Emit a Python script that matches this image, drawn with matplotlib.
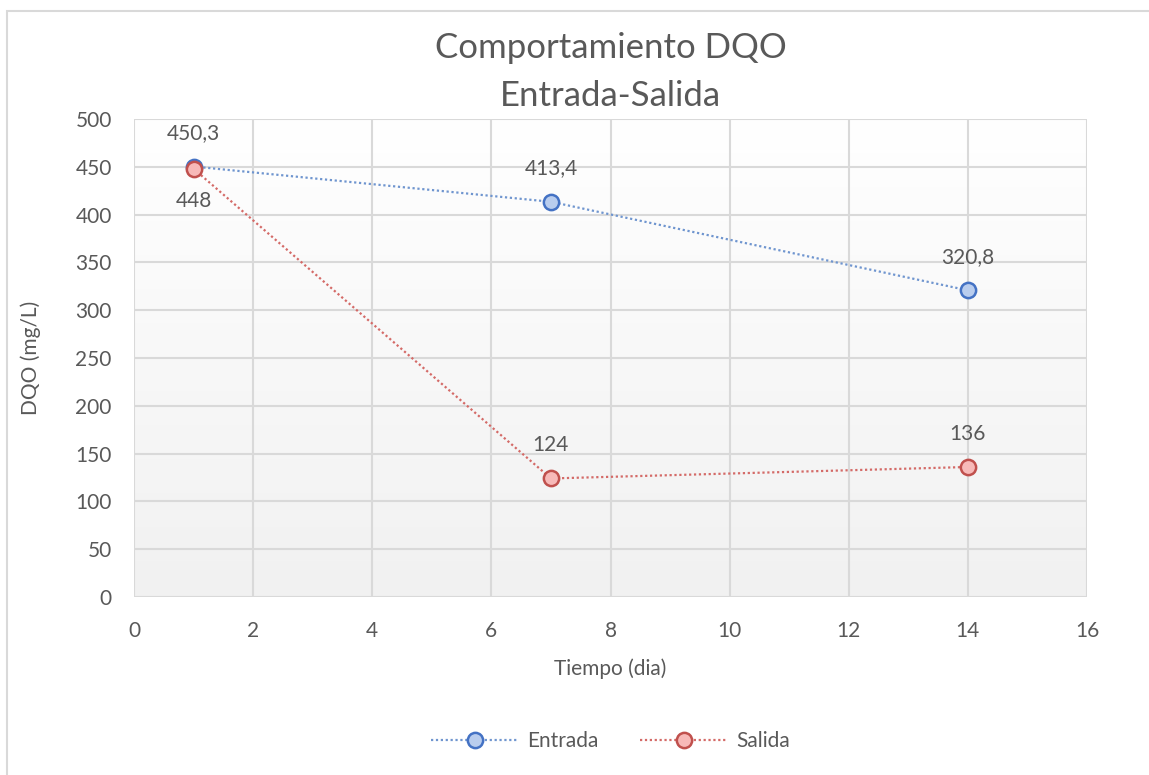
import numpy as np
import matplotlib.pyplot as plt
from matplotlib.patches import Rectangle
from matplotlib.lines import Line2D

# Data
dias = [1, 7, 14]
entrada = [450.3, 413.4, 320.8]
salida = [448, 124, 136]
etiquetas_entrada = ["450,3", "413,4", "320,8"]
etiquetas_salida = ["448", "124", "136"]
xticks = [0, 2, 4, 6, 8, 10, 12, 14, 16]
yticks = [0, 50, 100, 150, 200, 250, 300, 350, 400, 450, 500]

plt.rcParams['font.family'] = ['Lato', 'DejaVu Sans']
txt = '#595959'
grid_c = '#d9d9d9'
fs = 15

W, H = 1149, 775
fig = plt.figure(figsize=(W / 100, H / 100), dpi=100)

# Outer chart border (open on right/bottom edges)
fig.patches.append(Rectangle((7 / W, 0 - 0.01), 1.02, 1 - 11 / H + 0.01,
                             transform=fig.transFigure, fill=False,
                             edgecolor='#d9d9d9', linewidth=1.5))

ax = fig.add_axes([134 / W, 1 - 597 / H, (1087 - 134) / W, (597 - 119) / H])
ax.set_xlim(0, 16)
ax.set_ylim(0, 500)

# Vertical gradient background of the plot area
grad = np.linspace(0, 1, 256).reshape(-1, 1)
top = np.array([1.0, 1.0, 1.0])
bot = np.array([0.945, 0.945, 0.945])
img = top + (bot - top) * grad
img = np.repeat(img[:, None, :], 2, axis=1)
ax.imshow(img, extent=[0, 16, 0, 500], origin='upper', aspect='auto', zorder=0)

ax.set_xticks(xticks)
ax.set_yticks(yticks)
ax.grid(True, color=grid_c, linewidth=1.5, zorder=1)
for s in ax.spines.values():
    s.set_visible(False)
ax.tick_params(axis='y', length=0, labelsize=fs, colors=txt, pad=16)
ax.tick_params(axis='x', length=0, labelsize=fs, colors=txt, pad=17)

col_e_line, col_e_edge, col_e_face = '#6f95cf', '#4472c4', '#b9cdee'
col_s_line, col_s_edge, col_s_face = '#d46a67', '#c0504d', '#f7b9b8'
ms = 11

ax.plot(dias, entrada, linestyle=(0, (1, 1.2)), color=col_e_line, linewidth=1.6,
        marker='o', markersize=ms, markerfacecolor=col_e_face,
        markeredgecolor=col_e_edge, markeredgewidth=1.8, zorder=3)
ax.plot(dias, salida, linestyle=(0, (1, 1.2)), color=col_s_line, linewidth=1.6,
        marker='o', markersize=ms, markerfacecolor=col_s_face,
        markeredgecolor=col_s_edge, markeredgewidth=1.8, zorder=4)

for x, y, t in zip(dias, entrada, etiquetas_entrada):
    ax.annotate(t, (x, y), xytext=(0, 24), textcoords='offset points',
                ha='center', va='center', fontsize=fs, color=txt, zorder=5)
for i, (x, y, t) in enumerate(zip(dias, salida, etiquetas_salida)):
    dy = -23.5 if i == 0 else 24
    ax.annotate(t, (x, y), xytext=(0, dy), textcoords='offset points',
                ha='center', va='center', fontsize=fs, color=txt, zorder=5)

ax.set_xlabel('Tiempo (dia)', fontsize=fs, color=txt, labelpad=13)
ax.set_ylabel('DQO (mg/L)', fontsize=fs, color=txt, labelpad=25)

fig.text((134 + 1087) / 2 / W, 1 - 72 / H, 'Comportamiento DQO\nEntrada-Salida',
         ha='center', va='center', fontsize=25, color=txt, linespacing=1.62)

handles = [
    Line2D([], [], linestyle=(0, (1, 1.2)), color=col_e_line, linewidth=1.6,
           marker='o', markersize=ms, markerfacecolor=col_e_face,
           markeredgecolor=col_e_edge, markeredgewidth=1.8),
    Line2D([], [], linestyle=(0, (1, 1.2)), color=col_s_line, linewidth=1.6,
           marker='o', markersize=ms, markerfacecolor=col_s_face,
           markeredgecolor=col_s_edge, markeredgewidth=1.8),
]
fig.legend(handles, ['Entrada', 'Salida'], loc='center',
           bbox_to_anchor=((134 + 1087) / 2 / W, 1 - 741 / H), ncol=2,
           frameon=False, fontsize=fs, labelcolor=txt, handlelength=4.2,
           columnspacing=2.0, handletextpad=0.4)

fig.savefig('out.png', dpi=100, facecolor='white')
